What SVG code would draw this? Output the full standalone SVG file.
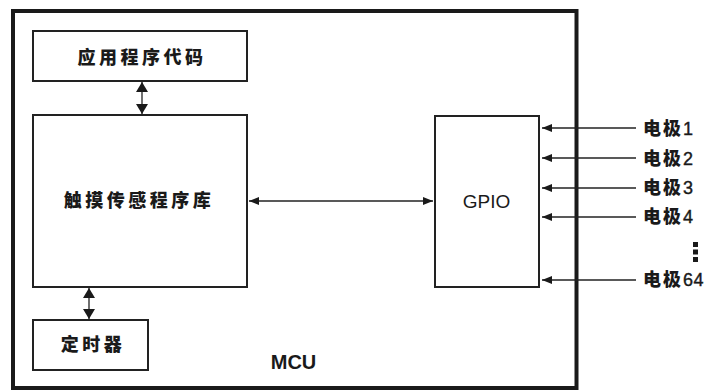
<svg xmlns="http://www.w3.org/2000/svg" width="718" height="392" viewBox="0 0 718 392">
<style>
.box{fill:#fff;stroke:#222;stroke-width:2}
.mcu{fill:none;stroke:#1a1a1a;stroke-width:4}
.cn{font-family:"Noto Sans CJK SC","Noto Sans CJK JP",sans-serif;font-weight:900;font-size:18px;fill:#1a1a1a;letter-spacing:3.5px}
.el{font-family:"Noto Sans CJK SC",sans-serif;font-weight:900;font-size:18px;fill:#1a1a1a;letter-spacing:2px}
.dg{font-family:"Liberation Sans",Arial,sans-serif;font-weight:normal;font-size:18px;letter-spacing:0.5px;stroke:#1a1a1a;stroke-width:0.4}
.lat{font-family:"Liberation Sans",Arial,sans-serif;fill:#1a1a1a}
.ln{stroke:#222;stroke-width:1.3;fill:none}
</style>
<defs>
<marker id="ah" viewBox="0 0 10 8" refX="10" refY="4" markerWidth="10" markerHeight="8" markerUnits="userSpaceOnUse" orient="auto-start-reverse">
<path d="M0,0 L10,4 L0,8 Z" fill="#1a1a1a"/>
</marker>
<marker id="ahv" viewBox="0 0 10 12" refX="10" refY="6" markerWidth="10" markerHeight="12" markerUnits="userSpaceOnUse" orient="auto-start-reverse">
<path d="M0,0 L10,6 L0,12 Z" fill="#1a1a1a"/>
</marker>
</defs>
<rect x="0" y="0" width="718" height="392" fill="#fff"/>
<g id="mcu">
<rect class="mcu" x="13" y="11" width="563.5" height="377"/>
<text class="lat" x="293.5" y="369" font-size="20" font-weight="bold" text-anchor="middle">MCU</text>
</g>
<g id="app">
<rect class="box" x="33" y="31" width="214" height="50"/>
<text class="cn" x="142" y="63.5" text-anchor="middle">应用程序代码</text>
</g>
<g id="touch">
<rect class="box" x="33" y="115" width="214" height="172"/>
<text class="cn" x="139" y="206.5" text-anchor="middle">触摸传感程序库</text>
</g>
<g id="timer">
<rect class="box" x="33" y="320" width="115" height="50"/>
<text class="cn" x="93" y="350.5" text-anchor="middle">定时器</text>
</g>
<g id="gpio">
<rect class="box" x="435" y="116" width="104" height="171"/>
<text class="lat" x="486.5" y="208" font-size="19" text-anchor="middle">GPIO</text>
</g>
<g id="electrodes">
<text class="el" x="643" y="135">电极<tspan class="dg">1</tspan></text>
<text class="el" x="643" y="165">电极<tspan class="dg">2</tspan></text>
<text class="el" x="643" y="194">电极<tspan class="dg">3</tspan></text>
<text class="el" x="643" y="223">电极<tspan class="dg">4</tspan></text>
<text class="el" x="643" y="286">电极<tspan class="dg">64</tspan></text>
<rect x="693" y="242" width="5" height="5" fill="#1a1a1a"/>
<rect x="693" y="249.5" width="5" height="5" fill="#1a1a1a"/>
<rect x="693" y="257" width="5" height="5" fill="#1a1a1a"/>
</g>
<g id="connectors">
<line class="ln" x1="142" y1="82" x2="142" y2="114" marker-start="url(#ahv)" marker-end="url(#ahv)"/>
<line class="ln" x1="89" y1="288" x2="89" y2="319" marker-start="url(#ahv)" marker-end="url(#ahv)"/>
<line class="ln" x1="249" y1="201" x2="433" y2="201" marker-start="url(#ah)" marker-end="url(#ah)"/>
<line class="ln" x1="636" y1="128" x2="542" y2="128" marker-end="url(#ah)"/>
<line class="ln" x1="636" y1="158" x2="542" y2="158" marker-end="url(#ah)"/>
<line class="ln" x1="636" y1="188" x2="542" y2="188" marker-end="url(#ah)"/>
<line class="ln" x1="636" y1="217" x2="542" y2="217" marker-end="url(#ah)"/>
<line class="ln" x1="636" y1="280" x2="542" y2="280" marker-end="url(#ah)"/>
</g>
</svg>
